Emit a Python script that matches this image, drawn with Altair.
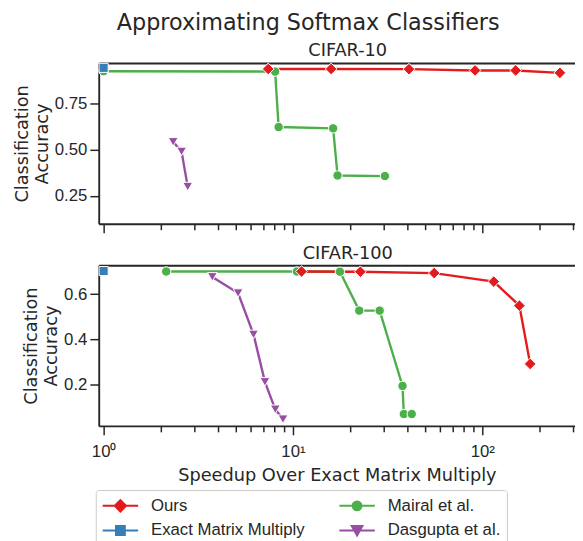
import altair as alt
import pandas as pd

METHODS = ["Ours", "Exact Matrix Multiply", "Mairal et al.", "Dasgupta et al."]
COLORS = ["#e41a1c", "#377eb8", "#4daf4a", "#984ea3"]
SHAPES = ["diamond", "square", "circle", "triangle-down"]
SIZES = [140, 85, 90, 100]
DRAW_ORDER = ["Mairal et al.", "Dasgupta et al.", "Exact Matrix Multiply", "Ours"]

# CIFAR-10
c10_ours_speedup = [7.4, 15.9, 41.0, 91.6, 150, 257]
c10_ours_acc = [0.936, 0.936, 0.935, 0.928, 0.928, 0.915]
c10_exact_speedup = [1.0]
c10_exact_acc = [0.942]
c10_mairal_speedup = [1.0, 8.05, 8.4, 16.3, 17.2, 30.6]
c10_mairal_acc = [0.924, 0.922, 0.622, 0.615, 0.360, 0.357]
c10_dasgupta_speedup = [2.33, 2.58, 2.78]
c10_dasgupta_acc = [0.542, 0.490, 0.300]

# CIFAR-100
c100_ours_speedup = [11.1, 22.7, 55.7, 115, 157, 179]
c100_ours_acc = [0.701, 0.700, 0.694, 0.656, 0.549, 0.290]
c100_exact_speedup = [1.0]
c100_exact_acc = [0.703]
c100_mairal_speedup = [2.14, 10.5, 17.7, 22.4, 28.7, 37.9, 38.5, 42.4]
c100_mairal_acc = [0.701, 0.701, 0.700, 0.527, 0.527, 0.192, 0.067, 0.067]
c100_dasgupta_speedup = [3.75, 5.13, 6.19, 7.11, 8.07, 8.86]
c100_dasgupta_acc = [0.677, 0.605, 0.421, 0.210, 0.088, 0.044]

X_TICKS = [1, 2, 3, 4, 5, 6, 7, 8, 9, 10, 20, 30, 40, 50, 60, 70, 80, 90, 100, 200, 300]
X_DOMAIN = [0.942, 308.8]

series = {
    "CIFAR-10": {
        "Ours": (c10_ours_speedup, c10_ours_acc),
        "Exact Matrix Multiply": (c10_exact_speedup, c10_exact_acc),
        "Mairal et al.": (c10_mairal_speedup, c10_mairal_acc),
        "Dasgupta et al.": (c10_dasgupta_speedup, c10_dasgupta_acc),
    },
    "CIFAR-100": {
        "Ours": (c100_ours_speedup, c100_ours_acc),
        "Exact Matrix Multiply": (c100_exact_speedup, c100_exact_acc),
        "Mairal et al.": (c100_mairal_speedup, c100_mairal_acc),
        "Dasgupta et al.": (c100_dasgupta_speedup, c100_dasgupta_acc),
    },
}

rows = []
for panel_name, d in series.items():
    for m in DRAW_ORDER:
        xs, ys = d[m]
        for i, (a, b) in enumerate(zip(xs, ys)):
            rows.append({"panel": panel_name, "method": m, "speedup": a, "acc": b, "idx": i})
df = pd.DataFrame(rows)

INK = "#262626"
style = {m: (c, s, z) for m, c, s, z in zip(METHODS, COLORS, SHAPES, SIZES)}

LEGEND_PATHS = [
    "M-1,0H1M0,-0.32L0.32,0L0,0.32L-0.32,0Z",
    "M-1,0H1M-0.25,-0.25H0.25V0.25H-0.25Z",
    "M-1,0H1M-0.25,0A0.25,0.25,0,1,0,0.25,0A0.25,0.25,0,1,0,-0.25,0Z",
    "M-1,0H1M-0.3,-0.25H0.3L0,0.28Z",
]

xscale = alt.Scale(type="log", domain=X_DOMAIN, nice=False)
major_test = "datum.value == 1 || datum.value == 10 || datum.value == 100"
label_expr = ("datum.value == 1 ? '10\u2070' : datum.value == 10 ? '10\u00b9' : "
              "datum.value == 100 ? '10\u00b2' : ''")


def make_legend():
    return alt.Legend(
        title=None, orient="none", legendX=-3, legendY=433,
        columns=2, columnPadding=34, rowPadding=5, clipHeight=20,
        symbolSize=1296, symbolStrokeWidth=2, labelOffset=12,
        labelFont="Liberation Sans", labelFontSize=17,
        labelColor=INK, strokeColor="#cccccc", fillColor="white",
        cornerRadius=3, padding=6, labelLimit=400,
    )


def panel(name, ydomain, yticks, yfmt, bottom):
    data = df[df.panel == name]
    base = alt.Chart(data)
    xaxis = alt.Axis(
        values=X_TICKS, labels=bottom, labelExpr=label_expr,
        tickSize={"condition": {"test": major_test, "value": 9}, "value": 6},
        tickWidth=1.5, tickColor=INK, domainColor=INK, domainWidth=1.9,
        labelFont="Liberation Sans", labelFontSize=17, labelColor=INK,
        labelOverlap=False, labelFlush=False, labelPadding=9,
        title="Speedup Over Exact Matrix Multiply" if bottom else None,
        titleFont="DejaVu Sans", titleFontSize=18, titleFontWeight="normal",
        titleColor=INK, titlePadding=7, grid=False,
    )
    yaxis = alt.Axis(
        values=yticks, format=yfmt, tickSize=9, tickWidth=1.5, tickColor=INK,
        domainColor=INK, domainWidth=1.9, labelFont="Liberation Sans",
        labelFontSize=17, labelColor=INK, labelPadding=3, grid=False,
        title=["Classification", "Accuracy"], titleFont="DejaVu Sans",
        titleFontSize=18, titleFontWeight="normal", titleColor=INK,
        titlePadding=3, titleLineHeight=20,
    )
    x = alt.X("speedup:Q", scale=xscale, axis=xaxis)
    y = alt.Y("acc:Q", scale=alt.Scale(domain=ydomain, nice=False, zero=False), axis=yaxis)
    xt = alt.X("speedup:Q", scale=xscale,
               axis=alt.Axis(orient="top", labels=False, ticks=False, title=None,
                             domainColor=INK, domainWidth=1.9, grid=False))
    lns = []
    pts = []
    for m in DRAW_ORDER:
        c, s, z = style[m]
        sub = base.transform_filter(alt.datum.method == m)
        lns.append(sub.mark_line(strokeWidth=2.4, color=c).encode(x=x, y=y, order="idx:Q"))
        pts.append(
            sub.mark_point(shape=s, filled=True, size=z, fill=c, stroke="white",
                           strokeWidth=1, opacity=1)
            .encode(x=xt, y=y)
        )
    layers = [alt.layer(*lns), alt.layer(*pts)]
    if bottom:
        leg = (
            alt.Chart(data).transform_filter("false")
            .mark_point(filled=True, size=1296, strokeWidth=2, opacity=1)
            .encode(
                color=alt.Color("method:N", scale=alt.Scale(domain=METHODS, range=COLORS),
                                legend=make_legend()),
                shape=alt.Shape("method:N", scale=alt.Scale(domain=METHODS, range=LEGEND_PATHS),
                                legend=make_legend()),
                stroke=alt.Stroke("method:N", scale=alt.Scale(domain=METHODS, range=COLORS),
                                  legend=make_legend()),
            )
        )
        layers.append(leg)
    return (
        alt.layer(*layers)
        .resolve_axis(x="independent")
        .properties(
            width=483, height=163,
            title=alt.TitleParams(name, font="DejaVu Sans", fontSize=18,
                                  fontWeight="normal", color=INK, offset=1,
                                  frame="group", anchor="middle", dx=11),
        )
    )


top = panel("CIFAR-10", [0.099, 0.968], [0.25, 0.5, 0.75], ".2f", False)
bottom = panel("CIFAR-100", [0.014, 0.729], [0.2, 0.4, 0.6], ".1f", True)

chart = (
    alt.vconcat(top, bottom, spacing=11)
    .properties(
        title=alt.TitleParams("Approximating Softmax Classifiers", font="DejaVu Sans",
                              fontSize=22.6, fontWeight="normal", color=INK,
                              anchor="middle", dx=14, offset=8),
        padding={"left": 5, "top": 0, "right": 0, "bottom": 0},
    )
    .configure_view(stroke=None)
)

chart.save("out.html", embed_options={"renderer": "svg", "actions": False})
